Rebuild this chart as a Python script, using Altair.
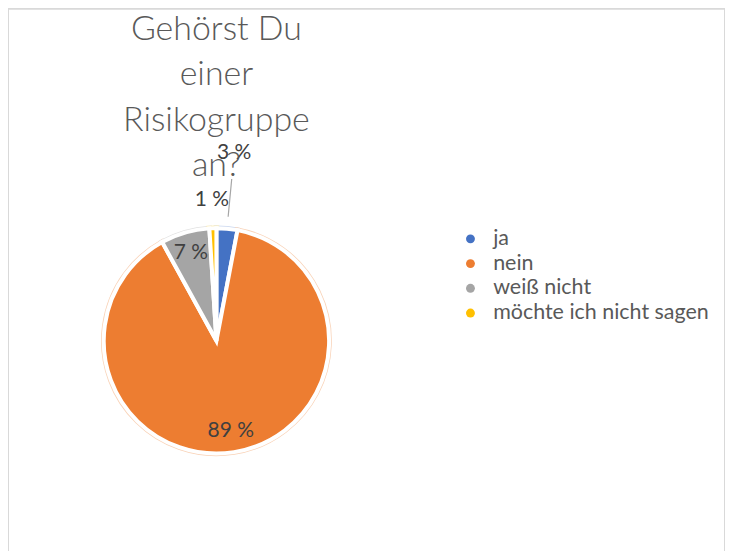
import altair as alt
import pandas as pd

categories = ["ja", "nein", "weiß nicht", "möchte ich nicht sagen"]
values = [3, 89, 7, 1]
labels = ["3 %", "89 %", "7 %", "1 %"]
colors = ["#4472C4", "#ED7D31", "#A5A5A5", "#FFC000"]
light_colors = ["#C9D6EE", "#F9D3B8", "#E2E2E2", "#FFECAA"]
title_lines = ["Gehörst Du", "einer", "Risikogruppe", "an?"]

df = pd.DataFrame({"cat": categories, "val": values, "label": labels, "idx": list(range(len(categories)))})

CX, CY, R = 209, 333, 113
FONT = "Lato"

color = alt.Color(
    "cat:N",
    scale=alt.Scale(domain=categories, range=colors),
    legend=alt.Legend(
        title=None, orient="none", legendX=453, legendY=220,
        symbolType="circle", symbolSize=80, symbolStrokeWidth=0,
        labelFont=FONT, labelFontSize=21.5, labelColor="#595959",
        labelOffset=12, rowPadding=1.8, labelLimit=400,
    ),
)

base = alt.Chart(df).encode(
    theta=alt.Theta("val:Q", stack=True),
    order=alt.Order("idx:Q"),
    x=alt.value(CX),
    y=alt.value(CY),
)

under = base.mark_arc(radius=R, strokeWidth=5.5).encode(
    color=color,
    stroke=alt.Stroke("cat:N", scale=alt.Scale(domain=categories, range=light_colors), legend=None),
)
pie = base.mark_arc(radius=R, stroke="white", strokeWidth=4).encode(color=color)


def label_layer(cats, radius):
    cond = " || ".join(f"datum.cat == '{c}'" for c in cats)
    return base.transform_calculate(
        show=f"({cond}) ? datum.label : ''"
    ).mark_text(radius=radius, font=FONT, fontSize=21, color="#404040").encode(
        text="show:N"
    )


lab_in = label_layer(["nein", "weiß nicht"], 92)
lab_yel = label_layer(["möchte ich nicht sagen"], 141)
lab_blue = label_layer(["ja"], 189)

leader = alt.Chart(df).transform_joinaggregate(
    total="sum(val)"
).transform_window(
    cum="sum(val)", sort=[alt.SortField("idx")], frame=[None, 0]
).transform_calculate(
    mid="(datum.cum - datum.val / 2) / datum.total * 2 * PI"
).transform_filter(
    "datum.cat == 'ja'"
).mark_arc(
    innerRadius=125, radius=163, stroke="#A6A6A6", strokeWidth=1.2, color="#A6A6A6"
).encode(
    theta=alt.Theta("mid:Q", scale=None, stack=False),
    theta2="mid:Q",
    x=alt.value(CX),
    y=alt.value(CY),
)

title = alt.Chart(alt.Data(values=[{"t": 1}])).mark_text(
    text=title_lines, font=FONT, fontSize=34, fontWeight=300, color="#595959",
    lineHeight=45.7, baseline="alphabetic", align="center",
).encode(x=alt.value(CX), y=alt.value(31))

chart = alt.layer(under, pie, lab_in, lab_yel, lab_blue, leader, title).properties(
    width=719, height=545, autosize=alt.AutoSizeParams(type="none"), padding=0,
).configure_view(stroke="#d9d9d9", strokeWidth=2)

chart.save("out.html", embed_options={"renderer": "svg", "actions": False})
